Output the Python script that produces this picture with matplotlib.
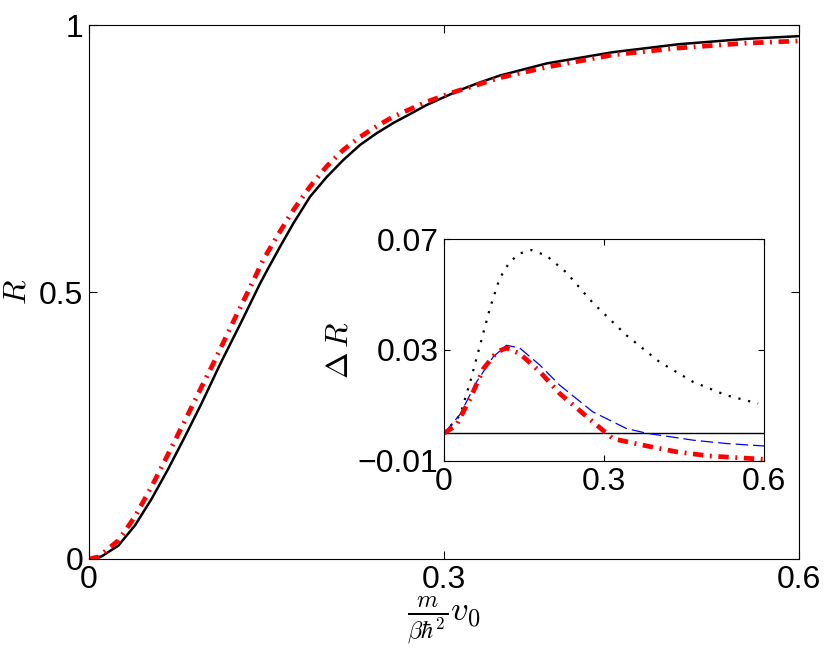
import matplotlib
matplotlib.use('Agg')
import matplotlib.pyplot as plt

plt.rcParams['font.family'] = ['Liberation Sans', 'DejaVu Sans']
plt.rcParams['mathtext.fontset'] = 'cm'
plt.rcParams['axes.unicode_minus'] = True

# main panel: R vs m v0 / (beta hbar^2)
v_black = [0, 0.0107, 0.0248, 0.0389, 0.053, 0.067, 0.081, 0.095, 0.111, 0.128,
           0.1445, 0.1515, 0.1614, 0.1727, 0.1868, 0.2009, 0.215, 0.229, 0.2431,
           0.257, 0.2713, 0.2854, 0.2994, 0.3135, 0.330, 0.347, 0.387, 0.443,
           0.499, 0.556, 0.6]
r_black = [0, 0.005, 0.025, 0.063, 0.113, 0.169, 0.229, 0.291, 0.366, 0.441,
           0.516, 0.545, 0.585, 0.629, 0.679, 0.716, 0.748, 0.776, 0.798,
           0.817, 0.834, 0.851, 0.865, 0.879, 0.893, 0.906, 0.929, 0.950,
           0.965, 0.975, 0.980]

v_red = [0, 0.008, 0.025, 0.039, 0.053, 0.067, 0.081, 0.095, 0.105, 0.122,
         0.139, 0.1473, 0.1587, 0.1727, 0.1868, 0.2009, 0.215, 0.229, 0.2431,
         0.257, 0.2713, 0.2854, 0.2994, 0.311, 0.330, 0.347, 0.387, 0.443,
         0.499, 0.556, 0.6]
r_red = [0, 0.004, 0.035, 0.080, 0.136, 0.197, 0.259, 0.322, 0.366, 0.445,
         0.522, 0.561, 0.604, 0.654, 0.698, 0.736, 0.767, 0.791, 0.811,
         0.829, 0.843, 0.857, 0.868, 0.877, 0.890, 0.902, 0.922, 0.945,
         0.958, 0.967, 0.971]

# inset: Delta R
v_dot = [0, 0.030, 0.049, 0.0675, 0.086, 0.104, 0.123, 0.142, 0.164, 0.192, 0.229,
         0.279, 0.342, 0.404, 0.467, 0.529, 0.589]
dr_dot = [0, 0.0065, 0.0185, 0.0317, 0.045, 0.0557, 0.0617, 0.0648, 0.066, 0.064,
          0.058, 0.047, 0.0353, 0.0257, 0.0185, 0.0137, 0.0107]

v_blue = [0, 0.030, 0.061, 0.092, 0.117, 0.142, 0.180, 0.217, 0.279, 0.342, 0.38,
          0.467, 0.529, 0.6]
dr_blue = [0, 0.0068, 0.0185, 0.0275, 0.0317, 0.0307, 0.0245, 0.0173, 0.0077,
           0.0017, 0.0, -0.0025, -0.0037, -0.0046]

v_dash = [0, 0.023, 0.049, 0.074, 0.099, 0.117, 0.142, 0.180, 0.217, 0.279, 0.317,
          0.373, 0.436, 0.498, 0.6]
dr_dash = [0, 0.0029, 0.0125, 0.0233, 0.0293, 0.0307, 0.0287, 0.0221, 0.0143,
           0.0041, -0.002, -0.0043, -0.0067, -0.0082, -0.0094]

FS = 23

fig = plt.figure(figsize=(8.3, 6.5), dpi=100)
ax = fig.add_axes([0.1072, 0.14, 0.8554, 0.8208])
ax.plot(v_black, r_black, color='black', lw=1.8)
ax.plot(v_red, r_red, color='red', lw=3.4, dashes=(2.2, 1.4, 0.4, 1.4))
ax.set_xlim(0, 0.6)
ax.set_ylim(0, 1)
ax.set_xticks([0, 0.3, 0.6])
ax.set_xticklabels(['0', '0.3', '0.6'])
ax.set_yticks([0, 0.5, 1])
ax.set_yticklabels(['0', '0.5', '1'])
ax.tick_params(direction='in', top=True, right=True, length=6, width=0.8,
               labelsize=FS, pad=4)
ax.set_xlabel(r'$\frac{m}{\beta\hbar^2}v_0$', fontsize=25, labelpad=0)
ax.set_ylabel(r'$R$', fontsize=FS, va='center')
ax.yaxis.set_label_coords(-0.1, 0.5)
for s in ax.spines.values():
    s.set_linewidth(0.8)

ins = fig.add_axes([0.535, 0.2908, 0.3855, 0.3415])
ins.axhline(0, color='black', lw=1.0)
ins.plot(v_dot, dr_dot, color='black', lw=1.6, linestyle=(0, (1, 3.5)))
ins.plot(v_blue, dr_blue, color='blue', lw=0.9, dashes=(10, 4))
ins.plot(v_dash, dr_dash, color='red', lw=3.4, dashes=(2.2, 1.4, 0.4, 1.4))
ins.set_xlim(0, 0.6)
ins.set_ylim(-0.01, 0.07)
ins.set_xticks([0, 0.3, 0.6])
ins.set_xticklabels(['0', '0.3', '0.6'])
ins.set_yticks([-0.01, 0.03, 0.07])
ins.set_yticklabels(['\u22120.01', '0.03', '0.07'])
ins.tick_params(direction='in', top=True, right=True, length=4, width=0.8,
                labelsize=FS, pad=4)
ins.set_ylabel(r'$\Delta\, R$', fontsize=FS, labelpad=2)
for s in ins.spines.values():
    s.set_linewidth(0.8)

fig.savefig('out.png', dpi=100)
